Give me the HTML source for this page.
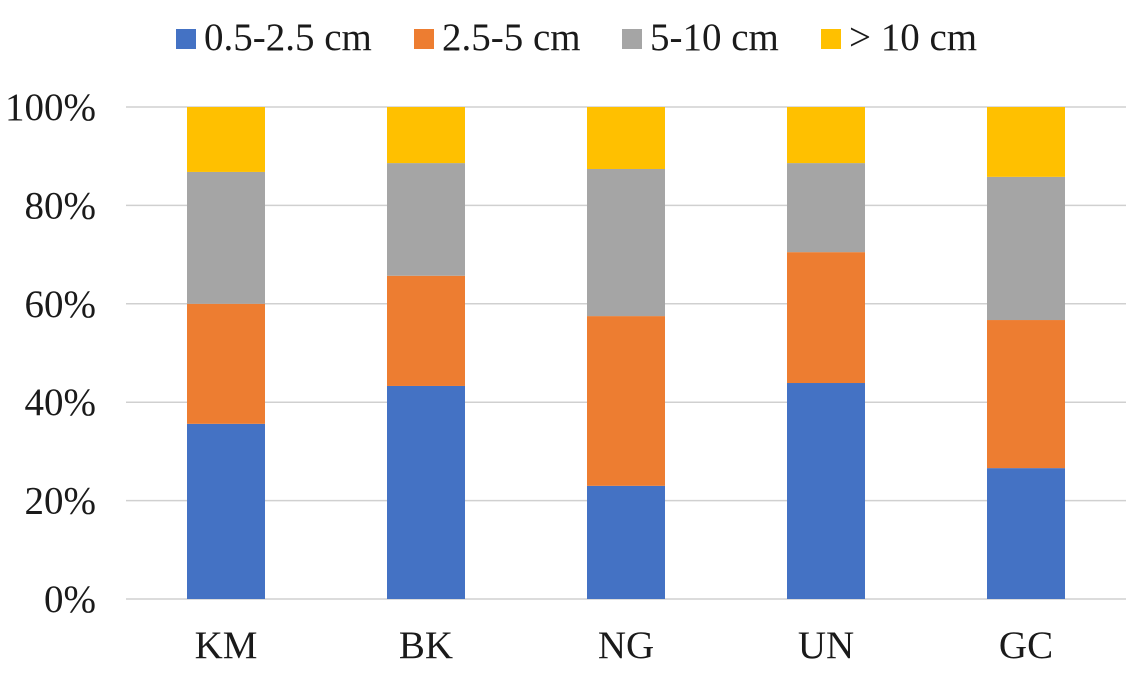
<!DOCTYPE html>
<html><head><meta charset="utf-8"><style>
html,body{margin:0;padding:0;background:#fff;}
svg text{font-family:"Liberation Serif",serif;fill:#1a1a1a;}
</style></head><body>
<svg id="c" width="1134" height="670" xmlns="http://www.w3.org/2000/svg"></svg>
<script>
const categories=["KM","BK","NG","UN","GC"];
const seriesNames=["0.5-2.5 cm","2.5-5 cm","5-10 cm","> 10 cm"];
const s1=[35.6,43.3,23.0,43.9,26.6];
const s2=[24.4,22.4,34.5,26.6,30.1];
const s3=[26.8,22.9,29.9,18.1,29.1];
const s4=[13.2,11.4,12.6,11.4,14.2];
const ticks=[0,20,40,60,80,100];
const tickLabels=["0%","20%","40%","60%","80%","100%"];
const colors=["#4472C4","#ED7D31","#A5A5A5","#FFC000"];
const series=[s1,s2,s3,s4];
const svg=document.getElementById('c');const NS="http://www.w3.org/2000/svg";
function mk(t,a,p){const e=document.createElementNS(NS,t);for(const k in a)e.setAttribute(k,a[k]);(p||svg).appendChild(e);return e;}
const x0=126,x1=1126,y0=599,y1=107;
const y=v=>y0-(v/100)*(y0-y1);
const bw=(x1-x0)/categories.length;
const xc=i=>x0+bw*(i+0.5);
ticks.forEach((t,i)=>{
 const g=mk('line',{x1:x0,x2:x1,y1:y(t),y2:y(t),stroke:'#d0d0d0','stroke-width':1.5});
 
 
 const l=mk('text',{x:96,y:y(t)+13,'text-anchor':'end','font-size':39});
 l.textContent=tickLabels[i];
 
 
});
categories.forEach((c,i)=>{
 let acc=0;
 series.forEach((s,j)=>{
  const r=mk('rect',{x:xc(i)-39,width:78,y:y(acc+s[i]),height:y(acc)-y(acc+s[i]),fill:colors[j]});
  
  
  acc+=s[i];
 });
 const t=mk('text',{x:xc(i),y:658,'text-anchor':'middle','font-size':39});
 t.textContent=c;
 
 
});
const lx=[176,414,622,821];
seriesNames.forEach((n,j)=>{
 const r=mk('rect',{x:lx[j],y:29,width:20,height:20,fill:colors[j]});
 
 
 const t=mk('text',{x:lx[j]+28,y:50,'font-size':39});
 t.textContent=n;
 
 
});
</script>
</body></html>
